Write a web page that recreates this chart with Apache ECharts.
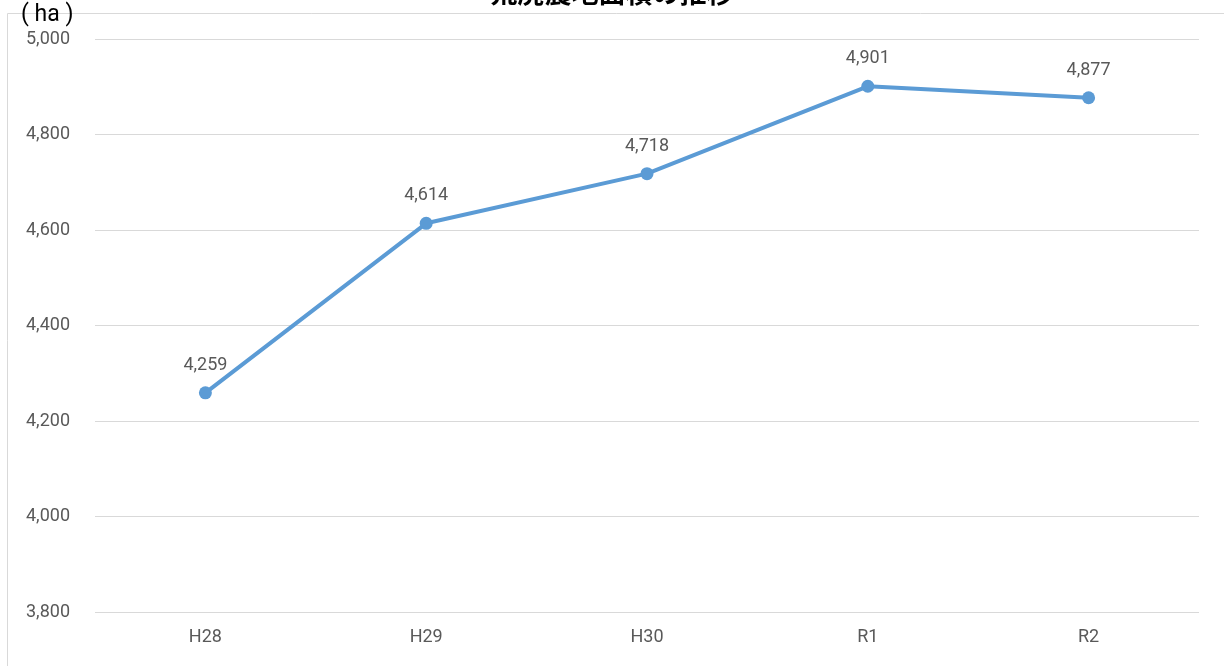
<!DOCTYPE html>
<html><head><meta charset="utf-8">
<script src="https://cdn.jsdelivr.net/npm/echarts@6/dist/echarts.min.js"></script>
<style>html,body{margin:0;padding:0;background:#fff}#c{width:1224px;height:666px}</style>
</head><body><div id="c"></div>
<script>
const categories = ['H28','H29','H30','R1','R2'];
const values = [4259, 4614, 4718, 4901, 4877];
const titleText = '荒廃農地面積の推移';
const unitText = '( ha )';

const chart = echarts.init(document.getElementById('c'));
chart.setOption({
  animation: false,
  title: {
    text: titleText, left: 'center', top: -26,
    textStyle: {fontFamily: 'Noto Sans CJK JP', fontSize: 27, fontWeight: 'bold', color: '#000'}
  },
  graphic: [
    {type: 'polyline', shape: {points: [[7.5, 680], [7.5, 13.5], [1230, 13.5]]},
     style: {stroke: '#d9d9d9', lineWidth: 1, fill: null}, z: 0},
    {type: 'text', left: 21, top: 4, style: {text: unitText, font: '23px Roboto', fill: '#000'}, z: 10}
  ],
  grid: {left: 95, right: 25, top: 39, bottom: 54},
  xAxis: {
    type: 'category', data: categories,
    axisLine: {show: false}, axisTick: {show: false},
    axisLabel: {color: '#595959', fontSize: 18, fontFamily: 'Roboto', margin: 16}
  },
  yAxis: {
    type: 'value', min: 3800, max: 5000, interval: 200,
    axisLabel: {color: '#595959', fontSize: 18, fontFamily: 'Roboto', margin: 25,
      formatter: v => v.toLocaleString('en-US')},
    splitLine: {lineStyle: {color: '#d9d9d9', width: 1}}
  },
  series: [{
    type: 'line', data: values,
    lineStyle: {color: '#5B9BD5', width: 4},
    itemStyle: {color: '#5B9BD5'},
    symbol: 'circle', symbolSize: 13,
    label: {show: true, position: 'top', distance: 12, color: '#595959', fontSize: 18, fontFamily: 'Roboto',
      formatter: p => p.value.toLocaleString('en-US')}
  }]
});
</script></body></html>
